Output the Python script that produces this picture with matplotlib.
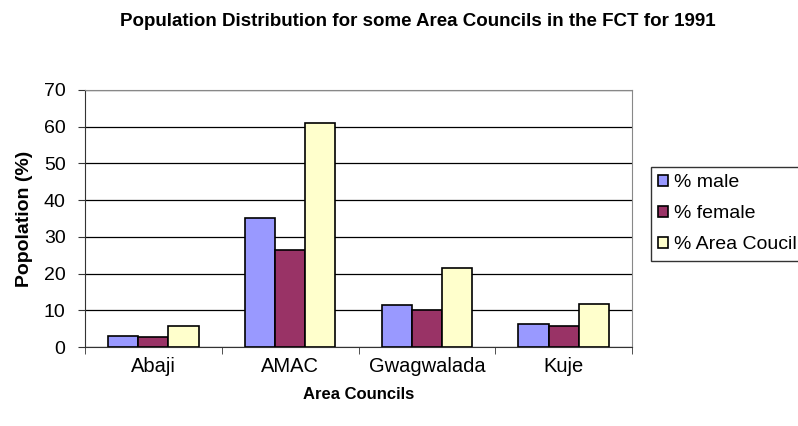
import numpy as np
import matplotlib
matplotlib.use("Agg")
import matplotlib.pyplot as plt

plt.rcParams['font.family'] = ['Liberation Sans', 'DejaVu Sans']

# data
councils = ["Abaji", "AMAC", "Gwagwalada", "Kuje"]
male = [2.9, 35.2, 11.4, 6.2]
female = [2.8, 26.3, 10.0, 5.7]
area_council = [5.7, 61.0, 21.4, 11.8]
series_names = ["% male", "% female", "% Area Coucil"]
colors = ["#9999FF", "#993366", "#FFFFCC"]

fig = plt.figure(figsize=(7.98, 4.26), dpi=100)
ax = fig.add_axes([85 / 798, 1 - 347 / 426, (632 - 85) / 798, (347 - 90) / 426])

x = np.arange(len(councils))
w = 0.22
for i, (vals, name, c) in enumerate(zip([male, female, area_council], series_names, colors)):
    ax.bar(x + (i - 1) * w, vals, w, color=c, edgecolor="black", linewidth=1.2, label=name, zorder=3)

ax.set_xlim(-0.5, len(councils) - 0.5)
ax.set_ylim(0, 70)
ax.set_yticks(range(0, 71, 10))
ax.set_xticks(x)
ax.set_xticklabels(councils, fontsize=14.5)
ax.set_xticks(np.arange(-0.5, len(councils)), minor=True)
ax.tick_params(axis="x", which="major", length=0, pad=7)
ax.tick_params(axis="x", which="minor", length=5, direction="out", color="#333333")
ax.tick_params(axis="y", labelsize=14, length=5, pad=9, direction="out", color="#333333")
ax.yaxis.grid(True, color="black", linewidth=0.9, zorder=0)

for s in ["top", "right"]:
    ax.spines[s].set_color("#888888")
ax.spines["left"].set_color("#333333")
ax.spines["bottom"].set_color("#333333")

ax.set_ylabel("Popolation (%)", fontsize=14, fontweight="bold", labelpad=8)
ax.set_xlabel("Area Councils", fontsize=12, fontweight="bold")
ax.xaxis.set_label_coords(0.5, (347 - 387) / 257)
fig.text(418 / 798, 1 - 22 / 426, "Population Distribution for some Area Councils in the FCT for 1991",
         ha="center", va="center", fontsize=13.5, fontweight="bold")

leg = ax.legend(loc="upper left", bbox_to_anchor=(651 / 798, 1 - 167 / 426),
                bbox_transform=fig.transFigure, fontsize=14, frameon=True, fancybox=False,
                edgecolor="black", handlelength=0.5, handleheight=0.5, handletextpad=0.3,
                borderpad=0.38, labelspacing=0.72, borderaxespad=0)
leg.get_frame().set_linewidth(1.0)

fig.savefig("out.png", dpi=100)
